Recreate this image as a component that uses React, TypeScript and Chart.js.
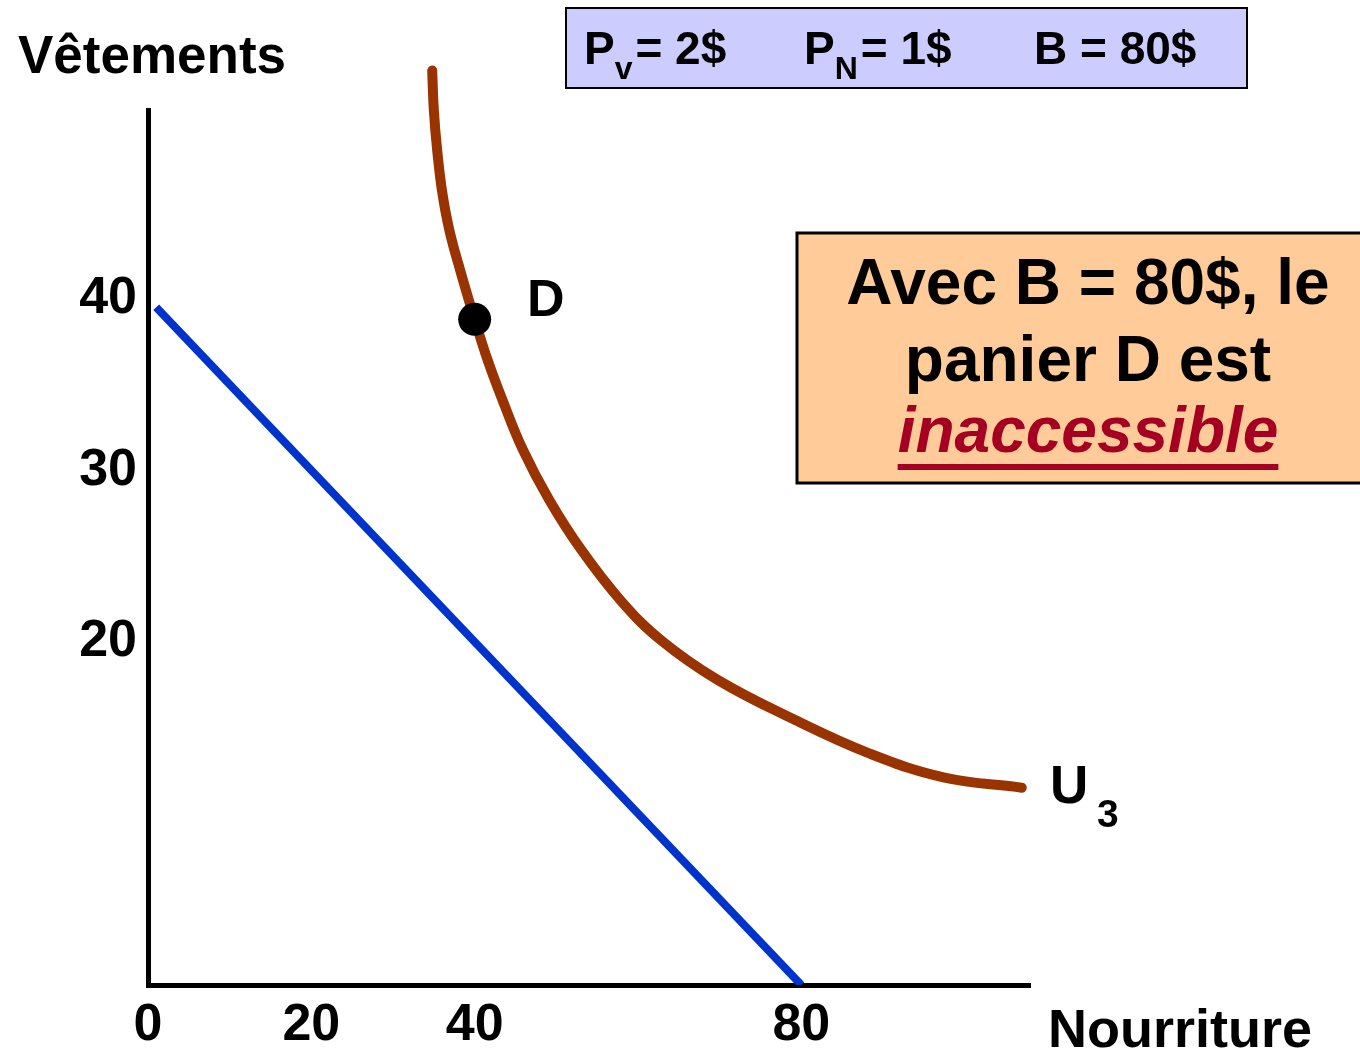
import React, { useEffect, useRef } from "react";
import { Chart, registerables } from "chart.js";

Chart.register(...registerables);

// ---- Data ----
const budgetFood = [1, 80];
const budgetClothing = [39.5, 0];

const u3Food = [
  34.8, 35.0, 35.4, 36.0, 36.9, 38.2, 40.0, 41.6, 43.4, 45.9,
  49.1, 53.0, 57.9, 62.8, 69.7, 79.0, 88.3, 97.4, 107.0,
];
const u3Clothing = [
  53.3, 51.0, 48.7, 46.3, 44.0, 41.7, 38.8, 36.4, 34.1, 31.2,
  28.3, 25.4, 22.4, 20.1, 17.8, 15.5, 13.5, 12.1, 11.5,
];

const basketDFood = [40];
const basketDClothing = [38.8];

const xTickValues = [0, 20, 40, 80];
const yTickValues = [20, 30, 40];

const xTitle = "Nourriture";
const yTitle = "Vêtements";
const pointLabel = "D";
const curveLabel = "U";
const curveLabelSub = "3";
const boxLines = ["Avec B = 80$, le", "panier D est", "inaccessible"];

const FONT = '"Liberation Sans", Arial, Helvetica, sans-serif';

const toPoints = (xs: number[], ys: number[]) => xs.map((x, i) => ({ x, y: ys[i] }));

const annotationsPlugin = {
  id: "annotations",
  afterDraw(chart: any) {
    const ctx = chart.ctx as CanvasRenderingContext2D;
    ctx.save();
    ctx.textBaseline = "alphabetic";
    ctx.textAlign = "left";
    ctx.fillStyle = "#000";

    // Axis titles
    ctx.font = `bold 53px ${FONT}`;
    ctx.fillText(yTitle, 18, 73);
    ctx.font = `bold 54px ${FONT}`;
    ctx.fillText(xTitle, 1048, 1047);

    // Point label
    ctx.font = `bold 52px ${FONT}`;
    ctx.fillText(pointLabel, 527, 316);

    // Curve label U3
    ctx.font = `bold 53px ${FONT}`;
    ctx.fillText(curveLabel, 1050, 803);
    ctx.font = `bold 39px ${FONT}`;
    ctx.fillText(curveLabelSub, 1097, 827);

    // Top price box
    ctx.fillStyle = "#ccccff";
    ctx.fillRect(566, 8, 681, 80);
    ctx.strokeStyle = "#000";
    ctx.lineWidth = 2;
    ctx.strokeRect(566, 8, 681, 80);
    ctx.fillStyle = "#000";
    const drawPrice = (x: number, main: string, sub: string, rest: string) => {
      ctx.font = `bold 46px ${FONT}`;
      ctx.fillText(main, x, 64);
      let cx = x + ctx.measureText(main).width;
      if (sub) {
        ctx.font = `bold 32px ${FONT}`;
        ctx.fillText(sub, cx, 79);
        cx += ctx.measureText(sub).width + 3;
      }
      ctx.font = `bold 46px ${FONT}`;
      ctx.fillText(rest, cx, 64);
    };
    drawPrice(584, "P", "v", "= 2$");
    drawPrice(804, "P", "N", "= 1$");
    drawPrice(1034, "B = 80$", "", "");

    // Right message box
    ctx.fillStyle = "#ffcc99";
    ctx.fillRect(797, 233, 600, 250);
    ctx.lineWidth = 3;
    ctx.strokeStyle = "#000";
    ctx.strokeRect(797, 233, 600, 250);
    ctx.textAlign = "center";
    ctx.fillStyle = "#000";
    ctx.font = `bold 64px ${FONT}`;
    ctx.fillText(boxLines[0], 1088, 304);
    ctx.fillText(boxLines[1], 1088, 381);
    ctx.fillStyle = "#a50021";
    ctx.font = `italic bold 64px ${FONT}`;
    ctx.fillText(boxLines[2], 1088, 452);
    const w = ctx.measureText(boxLines[2]).width;
    ctx.fillRect(1088 - w / 2, 464, w, 6);

    ctx.restore();
  },
};

export default function App() {
  const canvasRef = useRef<HTMLCanvasElement | null>(null);

  useEffect(() => {
    document.body.style.margin = "0";
    const canvas = canvasRef.current;
    if (!canvas) return;
    const tickFont = { family: FONT, size: 52, weight: "bold" as const };

    const chart = new Chart(canvas, {
      type: "scatter",
      data: {
        datasets: [
          {
            label: "D",
            data: toPoints(basketDFood, basketDClothing),
            showLine: false,
            pointRadius: 16.5,
            pointHoverRadius: 16.5,
            pointBackgroundColor: "#000",
            pointBorderWidth: 0,
            pointBorderColor: "#000",
          },
          {
            label: "U3",
            data: toPoints(u3Food, u3Clothing),
            showLine: true,
            borderColor: "#993300",
            borderWidth: 10,
            borderCapStyle: "round",
            borderJoinStyle: "round",
            tension: 0.4,
            pointRadius: 0,
            pointHoverRadius: 0,
            clip: false,
          } as any,
          {
            label: "Budget",
            data: toPoints(budgetFood, budgetClothing),
            showLine: true,
            borderColor: "#0033cc",
            borderWidth: 8,
            pointRadius: 0,
            pointHoverRadius: 0,
          },
        ],
      },
      options: {
        animation: false,
        responsive: false,
        devicePixelRatio: 1,
        events: [],
        layout: { padding: { top: 110, right: 330, left: 0, bottom: 0 } },
        plugins: {
          legend: { display: false },
          tooltip: { enabled: false },
          title: { display: false },
        },
        scales: {
          x: {
            type: "linear",
            min: 0,
            max: 108,
            grid: { display: false, drawTicks: false },
            border: { display: true, color: "#000", width: 5 },
            ticks: {
              font: tickFont,
              color: "#000",
              padding: 9,
              autoSkip: false,
              maxRotation: 0,
              callback: (v: any) => String(v),
            },
            afterBuildTicks: (scale: any) => {
              scale.ticks = xTickValues.map((value) => ({ value }));
            },
            afterFit: (scale: any) => {
              scale.height = 67;
            },
          },
          y: {
            type: "linear",
            min: 0,
            max: 51,
            grid: { display: false, drawTicks: false },
            border: { display: true, color: "#000", width: 5 },
            ticks: {
              font: tickFont,
              color: "#000",
              padding: 11,
              autoSkip: false,
              callback: (v: any) => String(v),
            },
            afterBuildTicks: (scale: any) => {
              scale.ticks = yTickValues.map((value) => ({ value }));
            },
            afterFit: (scale: any) => {
              scale.width = 148;
            },
          },
        },
      },
      plugins: [annotationsPlugin],
    });

    return () => chart.destroy();
  }, []);

  return (
    <div style={{ position: "absolute", left: 0, top: 0, width: 1360, height: 1052, background: "#fff" }}>
      <canvas ref={canvasRef} width={1360} height={1052} style={{ display: "block", width: 1360, height: 1052 }} />
    </div>
  );
}
